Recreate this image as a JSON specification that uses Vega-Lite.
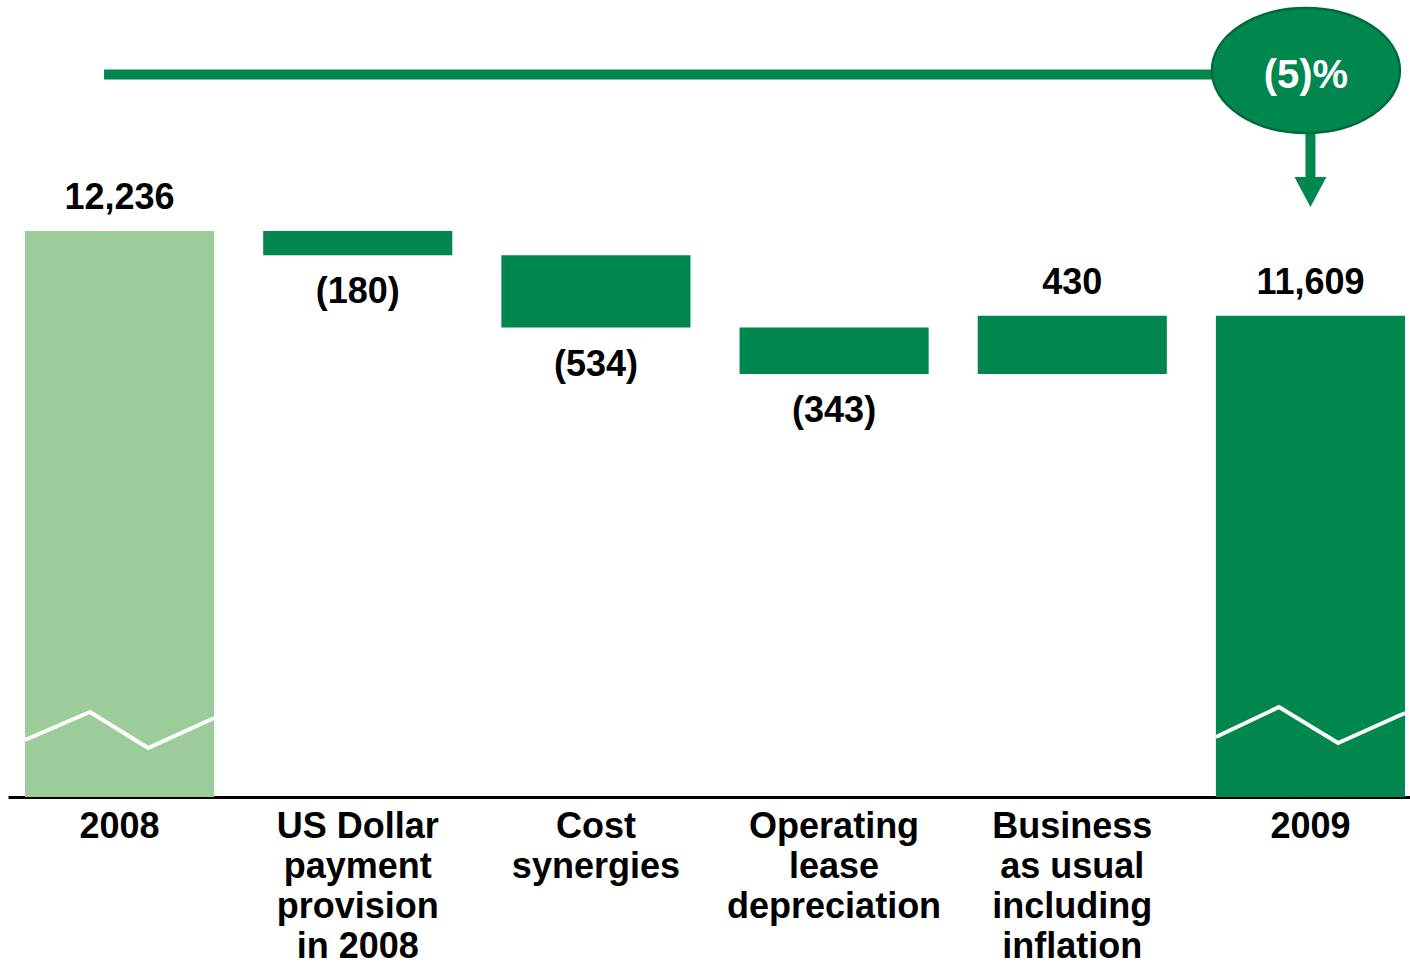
{
  "$schema": "https://vega.github.io/schema/vega-lite/v6.json",
  "autosize": {"type": "none"},
  "padding": {"left": 8, "top": 0, "right": 0, "bottom": 169},
  "width": 1402,
  "height": 797,
  "background": "white",
  "config": {
    "view": {"stroke": null},
    "font": "Liberation Sans",
    "text": {"font": "Liberation Sans", "fontWeight": "bold", "fontSize": 36, "color": "#000000"}
  },
  "resolve": {"scale": {"x": "independent"}},
  "layer": [
    {
      "data": {
        "values": [
          {"cat": "2008", "kind": "total", "hi": 12236, "lo": null, "text": "12,236"},
          {"cat": "US Dollar\npayment\nprovision\nin 2008", "kind": "decrease", "hi": 12236, "lo": 12056, "text": "(180)"},
          {"cat": "Cost\nsynergies", "kind": "decrease", "hi": 12056, "lo": 11522, "text": "(534)"},
          {"cat": "Operating\nlease\ndepreciation", "kind": "decrease", "hi": 11522, "lo": 11179, "text": "(343)"},
          {"cat": "Business\nas usual\nincluding\ninflation", "kind": "increase", "hi": 11609, "lo": 11179, "text": "430"},
          {"cat": "2009", "kind": "total", "hi": 11609, "lo": null, "text": "11,609"}
        ]
      },
      "encoding": {
        "x": {
          "field": "cat",
          "type": "nominal",
          "sort": null,
          "scale": {
            "type": "band",
            "domain": ["2008", "US Dollar\npayment\nprovision\nin 2008", "Cost\nsynergies", "Operating\nlease\ndepreciation", "Business\nas usual\nincluding\ninflation", "2009"],
            "paddingInner": 0.206,
            "paddingOuter": 0.0462,
            "align": 0.773
          },
          "axis": {
            "title": null,
            "labelAngle": 0,
            "labelExpr": "split(datum.label, '\\n')",
            "labelFont": "Liberation Sans",
            "labelFontSize": 36,
            "labelFontWeight": "bold",
            "labelColor": "#000000",
            "labelBaseline": "top",
            "labelLineHeight": 40,
            "labelPadding": 12,
            "labelOverlap": false,
            "labelLimit": 0,
            "ticks": false,
            "tickSize": 0,
            "grid": false,
            "domain": true,
            "domainColor": "#000000",
            "domainWidth": 3
          }
        }
      },
      "layer": [
        {
          "transform": [{"filter": "datum.kind === 'total'"}],
          "mark": {"type": "bar"},
          "encoding": {
            "y": {"field": "hi", "type": "quantitative", "scale": {"domain": [8053, 13943], "zero": false, "nice": false}, "axis": null},
            "y2": {"datum": 8053},
            "color": {"condition": {"test": "datum.cat === '2008'", "value": "#9CCC99"}, "value": "#00874F"}
          }
        },
        {
          "transform": [{"filter": "datum.kind !== 'total'"}],
          "mark": {"type": "bar", "color": "#00874F"},
          "encoding": {
            "y": {"field": "hi", "type": "quantitative", "scale": {"domain": [8053, 13943], "zero": false, "nice": false}, "axis": null},
            "y2": {"field": "lo"}
          }
        },
        {
          "transform": [{"filter": "datum.kind !== 'decrease'"}],
          "mark": {"type": "text", "baseline": "alphabetic", "align": "center", "dy": -22},
          "encoding": {
            "y": {"field": "hi", "type": "quantitative", "scale": {"domain": [8053, 13943], "zero": false, "nice": false}, "axis": null},
            "text": {"field": "text"}
          }
        },
        {
          "transform": [{"filter": "datum.kind === 'decrease'"}],
          "mark": {"type": "text", "baseline": "alphabetic", "align": "center", "dy": 48},
          "encoding": {
            "y": {"field": "lo", "type": "quantitative", "scale": {"domain": [8053, 13943], "zero": false, "nice": false}, "axis": null},
            "text": {"field": "text"}
          }
        }
      ]
    },
    {
      "encoding": {
        "x": {"field": "pos", "type": "quantitative", "scale": {"domain": [-0.4683, 5.418], "zero": false, "nice": false}, "axis": null},
        "y": {"field": "v", "type": "quantitative", "scale": {"domain": [8053, 13943], "zero": false, "nice": false}, "axis": null}
      },
      "layer": [
        {
          "data": {
            "values": [
              {"grp": "2008", "pos": -0.397, "v": 8474},
              {"grp": "2008", "pos": -0.124, "v": 8681},
              {"grp": "2008", "pos": 0.12, "v": 8415},
              {"grp": "2008", "pos": 0.397, "v": 8637},
              {"grp": "2009", "pos": 4.603, "v": 8496},
              {"grp": "2009", "pos": 4.868, "v": 8718},
              {"grp": "2009", "pos": 5.116, "v": 8452},
              {"grp": "2009", "pos": 5.397, "v": 8674}
            ]
          },
          "mark": {"type": "line", "color": "#FFFFFF", "strokeWidth": 4, "strokeCap": "butt", "strokeJoin": "miter"},
          "encoding": {"detail": {"field": "grp"}, "order": {"field": "pos", "type": "quantitative"}}
        },
        {
          "data": {"values": [{"pos": -0.065, "v": 13393}, {"pos": 4.9, "v": 13393}]},
          "mark": {"type": "line", "color": "#00874F", "strokeWidth": 10, "strokeCap": "butt"},
          "encoding": {}
        },
        {
          "data": {"values": [{"pos": 5.0, "v": 12960, "v2": 12600}]},
          "mark": {"type": "rule", "color": "#00874F", "strokeWidth": 10, "strokeCap": "butt"},
          "encoding": {"y2": {"field": "v2"}}
        },
        {
          "data": {"values": [{"pos": 5.0, "v": 12524}]},
          "mark": {"type": "point", "filled": true, "opacity": 1, "color": "#00874F", "strokeWidth": 0, "size": 1024, "shape": "M -1 -0.94 L 1 -0.94 L 0 0.94 Z"},
          "encoding": {}
        },
        {
          "data": {"values": [{"pos": 4.981, "v": 13422, "label": "(5)%"}]},
          "layer": [
            {
              "mark": {"type": "point", "filled": true, "opacity": 1, "fill": "#00874F", "stroke": "#006A3E", "strokeWidth": 2.5, "size": 35344, "shape": "M -1 0 C -1 -0.3673 -0.5523 -0.665 0 -0.665 C 0.5523 -0.665 1 -0.3673 1 0 C 1 0.3673 0.5523 0.665 0 0.665 C -0.5523 0.665 -1 0.3673 -1 0 Z"},
              "encoding": {}
            },
            {
              "mark": {"type": "text", "color": "#FFFFFF", "fontSize": 40, "fontWeight": "bold", "baseline": "alphabetic", "align": "center", "dy": 17.5},
              "encoding": {"text": {"field": "label"}}
            }
          ]
        }
      ]
    }
  ]
}
